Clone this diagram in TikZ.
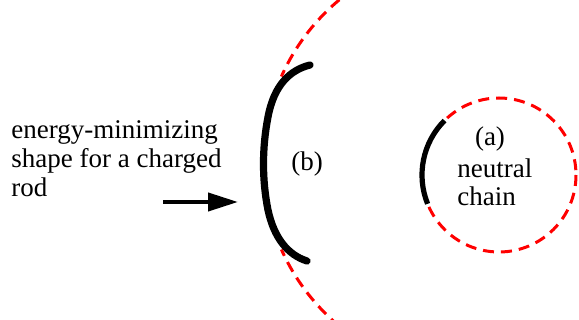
\documentclass[tikz,border=0pt]{standalone}
\usepackage{fontspec}
\setmainfont{Liberation Serif}
\usetikzlibrary{arrows.meta}
\tikzset{
  reddash/.style={draw=red, line width=1.5pt, dash pattern=on 5.5pt off 3.5pt},
  rodline/.style={draw=black, line width=3.6pt, line cap=round},
  chainline/.style={draw=black, line width=2.6pt},
  lbl/.style={font=\fontsize{13.5}{15}\selectfont, inner sep=0pt},
}
\begin{document}
\begin{tikzpicture}[x=0.5pt,y=-0.5pt]
\useasboundingbox (0,0) rectangle (579,320);
\clip (0,0) rectangle (579,320);
% large circle (b), dashed
\draw[reddash] (475.6,163) ++(125:212.6) arc[start angle=125, end angle=156, radius=212.6];
\draw[reddash] (475.6,163) ++(235:212.6) arc[start angle=235, end angle=204, radius=212.6];
% charged rod shape
\draw[rodline] (310,65) .. controls (290,70) and (274,85) .. (268,117)
  .. controls (262,148) and (262,180) .. (268,210)
  .. controls (274,238) and (288,255) .. (307,261);
% small circle (a)
\draw[reddash] (499,175) circle[radius=77];
\draw[chainline] (499,175) ++(225:77) arc[start angle=225, end angle=158, radius=77];
% labels
\node[lbl, anchor=base] (la) at (490,146) {(a)};
\node[lbl, anchor=base west] (lneutral) at (457,178) {neutral};
\node[lbl, anchor=base west] (lchain) at (457,206) {chain};
\node[lbl, anchor=base] (lb) at (307,171) {(b)};
\node[lbl, anchor=base west] (l1) at (11,139) {energy-minimizing};
\node[lbl, anchor=base west] (l2) at (11,168) {shape for a charged};
\node[lbl, anchor=base west] (l3) at (11,197) {rod};
% arrow
\coordinate (arrowstart) at (163,202);
\coordinate (arrowtip) at (238,202);
\draw[line width=2pt, -{Triangle[length=15pt,width=9pt]}] (arrowstart) -- (arrowtip);
\end{tikzpicture}
\end{document}
